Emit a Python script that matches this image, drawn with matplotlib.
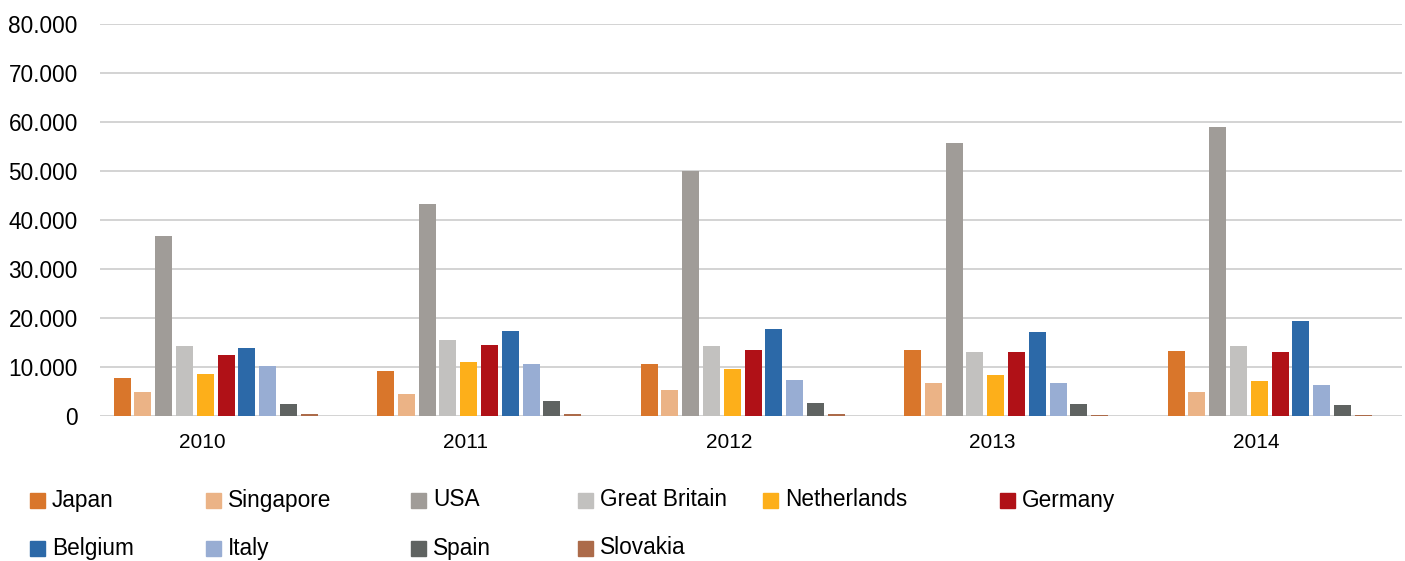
import matplotlib.pyplot as plt
from matplotlib.patches import Rectangle
from matplotlib.ticker import FuncFormatter
import numpy as np

plt.rcParams['font.family'] = ['Liberation Sans', 'DejaVu Sans']

years = ['2010', '2011', '2012', '2013', '2014']
countries = ['Japan', 'Singapore', 'USA', 'Great Britain', 'Netherlands',
             'Germany', 'Belgium', 'Italy', 'Spain', 'Slovakia']
colors = ['#D9762B', '#EBB386', '#A09C98', '#C2C1BF', '#FDAF1A',
          '#B01117', '#2C69A8', '#98ADD3', '#5F6361', '#AC6B4A']

japan = [7800, 9200, 10600, 13500, 13300]
singapore = [4900, 4500, 5300, 6700, 4900]
usa = [36800, 43300, 49900, 55800, 58900]
great_britain = [14300, 15500, 14300, 13100, 14300]
netherlands = [8600, 11000, 9600, 8400, 7100]
germany = [12400, 14500, 13500, 13100, 13100]
belgium = [13900, 17300, 17800, 17100, 19400]
italy = [10200, 10600, 7300, 6700, 6300]
spain = [2450, 3100, 2650, 2450, 2200]
slovakia = [400, 400, 400, 200, 200]

series = [japan, singapore, usa, great_britain, netherlands,
          germany, belgium, italy, spain, slovakia]

W, H = 1405, 561
fig = plt.figure(figsize=(W / 100, H / 100), dpi=100)
ax = fig.add_axes([100 / W, (H - 416) / H, 1302 / W, 392 / H])

px = 263.5  # pixels per category
x = np.arange(len(years))
pitch = 20.8 / px
width = 17 / px
first = -80 / px
for j, (name, vals) in enumerate(zip(countries, series)):
    ax.bar(x + first + j * pitch, vals, width=width, color=colors[j],
           label=name, zorder=3)

ax.set_ylim(0, 80000)
ax.set_xlim((100 - 202) / px, 4 + (1402 - 1256) / px)
ax.set_yticks(np.arange(0, 80001, 10000))
ax.yaxis.set_major_formatter(FuncFormatter(lambda v, p: f'{int(v):,}'.replace(',', '.')))
ax.set_xticks(x)
ax.set_xticklabels(years)
ax.tick_params(axis='both', length=0, colors='black')
ax.tick_params(axis='y', pad=16, labelsize=16.3)
ax.tick_params(axis='x', pad=12, labelsize=15)
ax.grid(axis='y', color='#D0D0D0', linewidth=1.3, zorder=0)
for s in ax.spines.values():
    s.set_visible(False)

# legend laid out like the original (two rows)
leg_x = [30, 206, 411, 578, 763, 1000, 30, 206, 411, 578]
leg_y = [500, 500, 500, 500, 500, 500, 548, 548, 548, 548]
for name, c, lx, ly in zip(countries, colors, leg_x, leg_y):
    fig.add_artist(Rectangle((lx / W, (H - ly - 8) / H), 15 / W, 15 / H,
                             transform=fig.transFigure, color=c))
    fig.text((lx + 22) / W, (H - ly) / H, name, fontsize=16.3,
             va='center', ha='left')

fig.savefig('out.png', dpi=100)
